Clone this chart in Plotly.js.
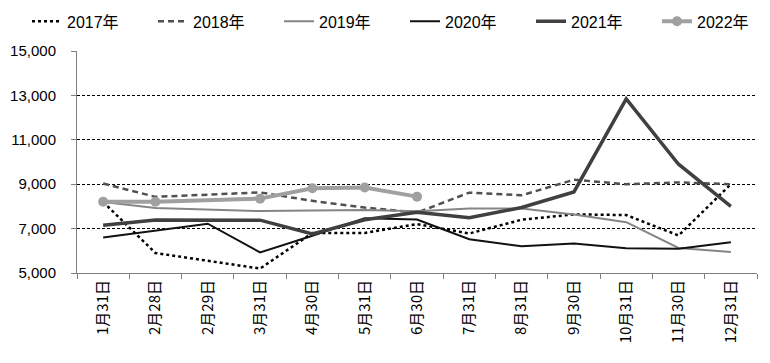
<!DOCTYPE html>
<html>
<head>
<meta charset="utf-8">
<script src="https://cdn.plot.ly/plotly-3.0.1.min.js"></script>
<style>html,body{margin:0;padding:0;background:#fff;}#chart{width:770px;height:363px;}</style>
</head>
<body>
<div id="chart"></div>
<script>
const categories = ["1月31日","2月28日","2月29日","3月31日","4月30日","5月31日","6月30日","7月31日","8月31日","9月30日","10月31日","11月30日","12月31日"];
const y2017 = [8200, 5900, null, 5200, 6800, 6800, 7200, 6780, 7400, 7640, 7610, 6690, 9000];
const y2018 = [9030, 8430, null, 8630, 8250, 7950, 7720, 8620, 8500, 9200, 9000, 9080, 9000];
const y2019 = [8200, 7930, null, 7790, 7830, 7840, 7780, 7910, 7900, 7640, 7290, 6130, 5950];
const y2020 = [6600, 6900, 7220, 5930, 6680, 7470, 7410, 6520, 6200, 6330, 6110, 6090, 6380];
const y2021 = [7150, 7390, null, 7380, 6760, 7400, 7740, 7490, 7950, 8650, 12840, 9900, 8000];
const y2022 = [8210, 8210, null, 8350, 8820, 8850, 8440, null, null, null, null, null, null];
const seriesNames = ["2017年","2018年","2019年","2020年","2021年","2022年"];
const yTicks = [5000, 7000, 9000, 11000, 13000, 15000];
const yTickText = ["5,000","7,000","9,000","11,000","13,000","15,000"];

const fontFam = "Liberation Sans, Arial, Noto Sans CJK SC, sans-serif";
const traces = [
  {y: y2017, name: seriesNames[0], line: {color: "#000000", width: 2.5, dash: "dot"}, mode: "lines"},
  {y: y2018, name: seriesNames[1], line: {color: "#505050", width: 2.5, dash: "6px,4px"}, mode: "lines"},
  {y: y2019, name: seriesNames[2], line: {color: "#858585", width: 2}, mode: "lines"},
  {y: y2020, name: seriesNames[3], line: {color: "#111111", width: 2}, mode: "lines"},
  {y: y2021, name: seriesNames[4], line: {color: "#404040", width: 3.5}, mode: "lines"},
  {y: y2022, name: seriesNames[5], line: {color: "#a0a0a0", width: 4}, mode: "lines+markers",
   marker: {color: "#a0a0a0", size: 10}}
].map(t => Object.assign({x: categories, type: "scatter", connectgaps: true}, t));

const layout = {
  width: 770, height: 363,
  margin: {l: 77, r: 13, t: 51, b: 89.5, autoexpand: false},
  paper_bgcolor: "#ffffff", plot_bgcolor: "#ffffff",
  font: {family: fontFam, color: "#000000", size: 15},
  showlegend: true,
  legend: {orientation: "h", x: -0.0735, xanchor: "left", y: 1.21, yanchor: "top",
           bgcolor: "rgba(0,0,0,0)",
           font: {size: 16, family: fontFam}, entrywidth: 81, traceorder: "normal"},
  xaxis: {
    type: "category", tickson: "boundaries", ticks: "outside", ticklen: 5, tickcolor: "#808080",
    showline: true, linecolor: "#808080", linewidth: 1, showgrid: false, zeroline: false,
    tickangle: -90, tickfont: {size: 15, family: "Noto Sans CJK SC, sans-serif"},
    range: [-0.5, 12.5], automargin: false
  },
  yaxis: {
    range: [5000, 15000], tickvals: yTicks, ticktext: yTickText, ticks: "outside", ticklen: 5,
    tickcolor: "#808080", showline: true, linecolor: "#808080", linewidth: 1,
    showgrid: true, gridcolor: "#000000", gridwidth: 1, griddash: "3px,2px", zeroline: false,
    tickfont: {size: 15, family: fontFam}, ticklabelstandoff: 12, automargin: false
  }
};
Plotly.newPlot("chart", traces, layout, {displayModeBar: false, staticPlot: true});
</script>
</body>
</html>
